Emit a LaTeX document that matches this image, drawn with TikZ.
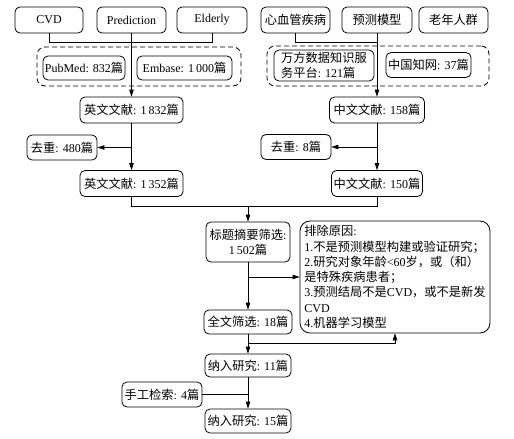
\documentclass[tikz,border=0pt]{standalone}
\usepackage{fontspec}
\setmainfont{Liberation Serif}
\newfontfamily\cjk{Noto Sans CJK SC}[Scale=1.02]
\newcommand{\zh}[1]{{\cjk #1}}
\usetikzlibrary{arrows.meta}
\begin{document}
\begin{tikzpicture}[x=1pt,y=-1pt,
  box/.style={draw, rounded corners=5pt, line width=0.8pt, inner sep=1.5pt, align=center,
    font=\fontsize{12}{15.3}\selectfont},
  dbox/.style={draw, dashed, dash pattern=on 5pt off 3pt, rounded corners=8pt, line width=0.8pt, inner sep=0pt},
  ln/.style={line width=0.8pt},
  arr/.style={line width=0.8pt, -{Triangle[length=7pt,width=4.5pt]}}]
\useasboundingbox (0,0) rectangle (514,439);

% dashed groups
\node[dbox, minimum width=204pt, minimum height=39pt] (ge) at (139,66.5) {};
\node[dbox, minimum width=222pt, minimum height=40pt] (gc) at (378,66) {};

% top row
\node[box, minimum width=68pt, minimum height=26pt] (cvd) at (49,20) {CVD};
\node[box, minimum width=69pt, minimum height=26pt] (pred) at (131.5,20) {Prediction};
\node[box, minimum width=70pt, minimum height=26pt] (eld) at (212,20) {Elderly};
\node[box, minimum width=69pt, minimum height=26pt] (xin) at (295.5,20) {\zh{心血管疾病}};
\node[box, minimum width=70pt, minimum height=26pt] (yc) at (377,20) {\zh{预测模型}};
\node[box, minimum width=69pt, minimum height=26pt] (ln) at (453.5,20) {\zh{老年人群}};

% databases
\node[box, minimum width=82pt, minimum height=24pt] (pm) at (84,68) {PubMed: 832\zh{篇}};
\node[box, minimum width=95pt, minimum height=24pt] (em) at (184.5,68) {Embase: 1\,000\zh{篇}};
\node[box, minimum width=100pt, minimum height=31pt, align=left] (wf) at (324,65.5) {\zh{万方数据知识服}\\\zh{务平台}: 121\zh{篇}};
\node[box, minimum width=85pt, minimum height=25pt] (zw) at (428.5,65) {\zh{中国知网}: 37\zh{篇}};

% English column
\node[box, minimum width=103pt, minimum height=26pt] (en1) at (131.5,110) {\zh{英文文献}: 1\,832\zh{篇}};
\node[box, minimum width=70pt, minimum height=25pt] (qc1) at (62,147.5) {\zh{去重}: 480\zh{篇}};
\node[box, minimum width=103pt, minimum height=26pt] (en2) at (131.5,183.5) {\zh{英文文献}: 1\,352\zh{篇}};

% Chinese column
\node[box, minimum width=95pt, minimum height=26pt] (cn1) at (377,110) {\zh{中文文献}: 158\zh{篇}};
\node[box, minimum width=70pt, minimum height=25pt] (qc2) at (296,147) {\zh{去重}: 8\zh{篇}};
\node[box, minimum width=91pt, minimum height=26pt] (cn2) at (377,183.5) {\zh{中文文献}: 150\zh{篇}};

% screening
\node[box, minimum width=84pt, minimum height=40pt] (bt) at (248,242) {\zh{标题摘要筛选}:\\1\,502\zh{篇}};
\node[box, rounded corners=10pt, minimum width=190pt, minimum height=112pt, align=left, inner sep=3pt] (pc) at (395,277)
  {\zh{排除原因}:\\
   1.\zh{不是预测模型构建或验证研究；}\\
   2.\zh{研究对象年龄}<60\zh{岁，或（和）}\\
   \zh{是特殊疾病患者；}\\
   3.\zh{预测结局不是}CVD\zh{，或不是新发}\\
   CVD\\
   4.\zh{机器学习模型}};
\node[box, minimum width=88pt, minimum height=24pt] (qw) at (248,322) {\zh{全文筛选}: 18\zh{篇}};
\node[box, minimum width=86pt, minimum height=23pt] (nr1) at (248,365.5) {\zh{纳入研究}: 11\zh{篇}};
\node[box, minimum width=80pt, minimum height=25pt] (sg) at (162,394.5) {\zh{手工检索}: 4\zh{篇}};
\node[box, minimum width=86pt, minimum height=24pt] (nr2) at (248,421) {\zh{纳入研究}: 15\zh{篇}};

% connectors
\draw[ln] (cvd.south) -- ++(0,9) -| (eld.south);
\draw[arr] (pred.south) -- (en1.north);
\draw[ln] (xin.south) -- ++(0,9) -| (yc.south);
\draw[arr] (yc.south) -- (cn1.north);

\draw[arr] (en1.south) -- (en2.north);
\draw[arr] (en1.south |- qc1.east) -- (qc1.east);
\draw[arr] (cn1.south) -- (cn2.north);
\draw[arr] (cn1.south |- qc2.east) -- (qc2.east);

\coordinate (m) at (248,206);
\draw[ln] (en2.south) |- (m);
\draw[ln] (cn2.south) |- (m);
\draw[arr] (m) -- (bt.north);

\draw[arr] (bt.south) -- (qw.north);
\draw[arr] (bt.south |- pc.west) -- (pc.west);

\coordinate (b2) at (248,343);
\draw[arr] (qw.south) -- (nr1.north);
\draw[arr] (b2) -| (pc.south);

\draw[arr] (nr1.south) -- (nr2.north);
\draw[ln] (sg.east) -- (sg.east -| nr1.south);
\end{tikzpicture}
\end{document}
